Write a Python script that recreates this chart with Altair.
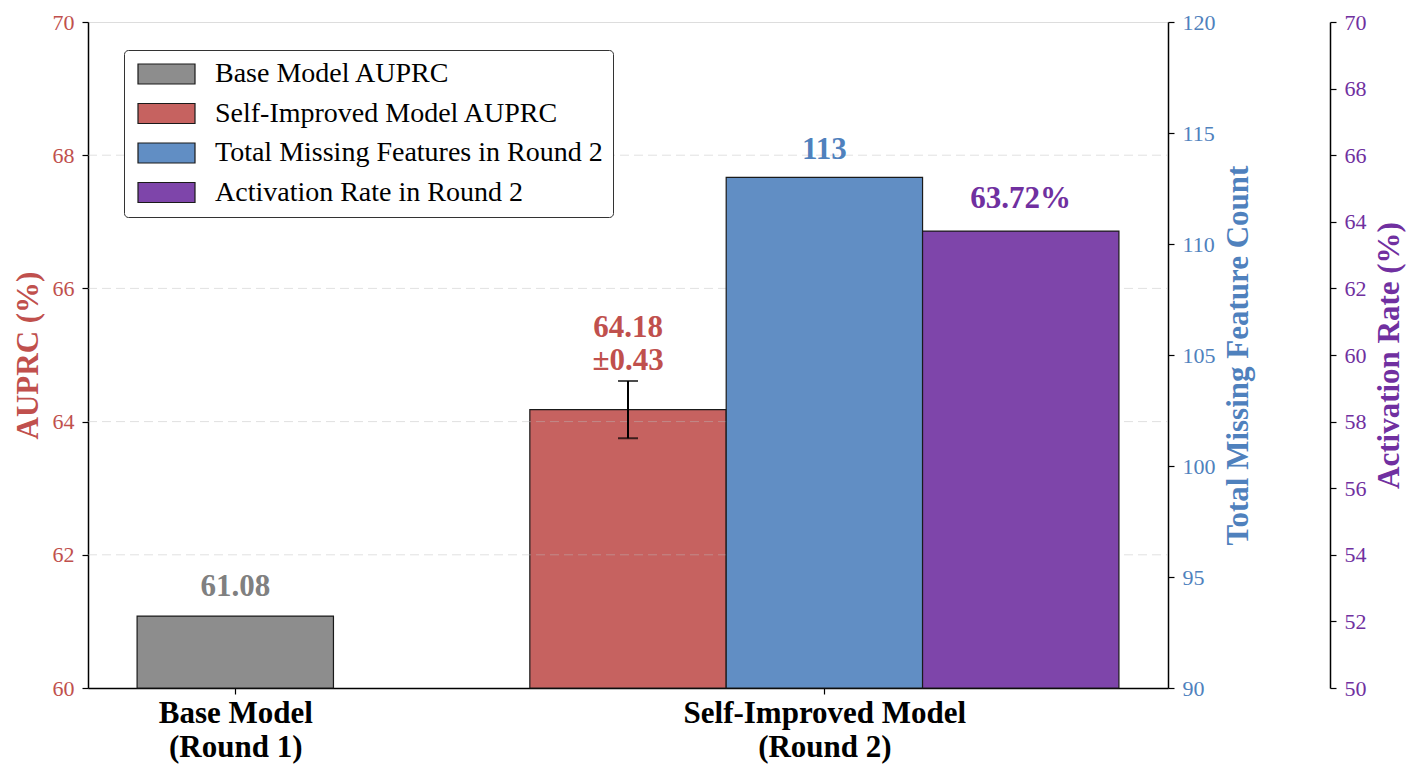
import json
import altair as alt
import pandas as pd

# ---------------- data ----------------
group_labels = [["Base Model", "\u00a0(Round 1)"], ["Self-Improved Model", "\u00a0(Round 2)"]]
series_names = [
    "Base Model AUPRC",
    "Self-Improved Model AUPRC",
    "Total Missing Features in Round 2",
    "Activation Rate in Round 2",
]
auprc_values = [61.08, 64.18]
auprc_errors = [0.0, 0.43]
missing_features = [113]
activation_rate = [63.72]

auprc_ticks = [60, 62, 64, 66, 68, 70]
missing_ticks = [90, 95, 100, 105, 110, 115, 120]
activation_ticks = [50, 52, 54, 56, 58, 60, 62, 64, 66, 68, 70]
grid_values = [62, 64, 66, 68]

# ---------------- styling ----------------
FONT = "Liberation Serif"
RED, BLUE, PURPLE, GRAY = "#C0504D", "#4F81BD", "#7030A0", "#808080"
fill_colors = ["#8D8D8D", "#C66260", "#618EC4", "#7E45AA"]
EDGE = "#1a1a1a"
BAR_W = 1 / 3
X_DOMAIN = [-0.25, 1.5833]
Y_AUPRC = [auprc_ticks[0], auprc_ticks[-1]]
Y_MISS = [missing_ticks[0], missing_ticks[-1]]
Y_ACT = [activation_ticks[0], activation_ticks[-1]]

# bar positions (group index + offset within group)
auprc_df = pd.DataFrame({
    "series": series_names[:2],
    "pos": [0.0, 1.0 - BAR_W],
    "value": auprc_values,
    "err": auprc_errors,
})
auprc_df["x0"] = auprc_df["pos"] - BAR_W / 2
auprc_df["x1"] = auprc_df["pos"] + BAR_W / 2
auprc_df["lo"] = auprc_df["value"] - auprc_df["err"]
auprc_df["hi"] = auprc_df["value"] + auprc_df["err"]
base_df = auprc_df.iloc[[0]].assign(label=[f"{auprc_values[0]:.2f}"])
imp_df = auprc_df.iloc[[1]].assign(label=[f"{auprc_values[1]:.2f}\n±{auprc_errors[1]:.2f}"])

miss_df = pd.DataFrame({"series": [series_names[2]], "pos": [1.0], "value": missing_features})
miss_df["x0"] = miss_df["pos"] - BAR_W / 2
miss_df["x1"] = miss_df["pos"] + BAR_W / 2
miss_df["label"] = [f"{v}" for v in missing_features]

act_df = pd.DataFrame({"series": [series_names[3]], "pos": [1.0 + BAR_W], "value": activation_rate})
act_df["x0"] = act_df["pos"] - BAR_W / 2
act_df["x1"] = act_df["pos"] + BAR_W / 2
act_df["label"] = [f"{v:.2f}%" for v in activation_rate]

grid_df = pd.DataFrame({"v": grid_values})

# ---------------- scales / axes ----------------
x_scale = alt.Scale(domain=X_DOMAIN, nice=False, zero=False)
label_expr = "datum.value == 0 ? " + json.dumps(group_labels[0]) + " : " + json.dumps(group_labels[1])
x_axis = alt.Axis(
    values=[0, 1], labelExpr=label_expr, title=None, grid=False,
    labelFont=FONT, labelFontSize=31, labelFontWeight="bold", labelColor="black",
    labelLineHeight=34, labelPadding=4, labelLimit=600, tickSize=6, tickColor="black", tickWidth=1.2,
    domainColor="black", domainWidth=1.5, labelFlush=False, labelOverlap=False,
)
x_enc = alt.X("x0:Q", scale=x_scale, axis=x_axis)
x2_enc = alt.X2("x1:Q")
xc_enc = alt.X("pos:Q", scale=x_scale, axis=x_axis)

def yaxis(title, color, ticks, orient, offset=0):
    kw = dict(
        title=title, orient=orient, values=ticks, grid=False,
        labelFont=FONT, labelFontSize=22, labelColor=color, labelPadding=8,
        tickSize=6, tickColor="black", tickWidth=1.2,
        domainColor="black", domainWidth=1.5,
        titleFont=FONT, titleFontSize=31, titleFontWeight="bold", titleColor=color,
        titleAngle=270, labelFlush=False, labelOverlap=False,
    )
    if orient == "left":
        kw.update(titlePadding=8)
    else:
        kw.update(titlePadding=8, titleBaseline="top")
    if offset:
        kw["offset"] = offset
    return alt.Axis(**kw)

legend = alt.Legend(
    title=None, orient="none", legendX=36, legendY=28,
    labelFont=FONT, labelFontSize=28, labelColor="black", labelLimit=600,
    symbolType="M-1,-1H4.7V1H-1Z", symbolSize=400,
    symbolStrokeColor=EDGE, symbolStrokeWidth=1.2, symbolOpacity=1,
    labelOffset=53, rowPadding=11.5, padding=10,
    strokeColor="#333333", fillColor="white", cornerRadius=4,
)
color_enc = alt.Color("series:N", scale=alt.Scale(domain=series_names, range=fill_colors), legend=legend)

y_auprc_scale = alt.Scale(domain=Y_AUPRC, nice=False, zero=False)
y_miss_scale = alt.Scale(domain=Y_MISS, nice=False, zero=False)
y_act_scale = alt.Scale(domain=Y_ACT, nice=False, zero=False)

ax_auprc = yaxis("AUPRC (%)", RED, auprc_ticks, "left")
ax_miss = yaxis("Total Missing Feature Count", BLUE, missing_ticks, "right")
ax_act = yaxis("Activation Rate (%)", PURPLE, activation_ticks, "right", offset=162)

# ---------------- layer 1: AUPRC ----------------
a_bars = alt.Chart(auprc_df).mark_bar(stroke=EDGE, strokeWidth=1.2).encode(
    x=x_enc, x2=x2_enc,
    y=alt.Y("value:Q", scale=y_auprc_scale, axis=ax_auprc),
    y2=alt.datum(Y_AUPRC[0]),
    color=color_enc,
)
a_grid = alt.Chart(grid_df).mark_rule(
    stroke="#bbbbbb", strokeOpacity=0.45, strokeWidth=1, strokeDash=[9, 5]
).encode(
    x=alt.value(0), x2=alt.value("width"),
    y=alt.Y("v:Q", scale=y_auprc_scale, axis=ax_auprc),
)
a_err = alt.Chart(imp_df).mark_rule(color="black", strokeWidth=2).encode(
    x=xc_enc,
    y=alt.Y("lo:Q", scale=y_auprc_scale, axis=ax_auprc),
    y2="hi:Q",
)
a_cap_lo = alt.Chart(imp_df).mark_tick(color="black", orient="horizontal", size=20, thickness=2).encode(
    x=xc_enc,
    y=alt.Y("lo:Q", scale=y_auprc_scale, axis=ax_auprc),
)
a_cap_hi = alt.Chart(imp_df).mark_tick(color="black", orient="horizontal", size=20, thickness=2).encode(
    x=xc_enc,
    y=alt.Y("hi:Q", scale=y_auprc_scale, axis=ax_auprc),
)
a_text_base = alt.Chart(base_df).mark_text(
    font=FONT, fontSize=31, fontWeight="bold", color=GRAY, baseline="alphabetic", dy=-20
).encode(
    x=xc_enc,
    y=alt.Y("value:Q", scale=y_auprc_scale, axis=ax_auprc),
    text="label:N",
)
a_text_imp = alt.Chart(imp_df).mark_text(
    font=FONT, fontSize=31, fontWeight="bold", color=RED, baseline="alphabetic",
    lineBreak="\n", lineHeight=33, dy=-44
).encode(
    x=xc_enc,
    y=alt.Y("hi:Q", scale=y_auprc_scale, axis=ax_auprc),
    text="label:N",
)
layer_auprc = alt.layer(a_bars, a_grid, a_err, a_cap_lo, a_cap_hi, a_text_base, a_text_imp)

# ---------------- layer 2: missing features ----------------
m_bars = alt.Chart(miss_df).mark_bar(stroke=EDGE, strokeWidth=1.2).encode(
    x=x_enc, x2=x2_enc,
    y=alt.Y("value:Q", scale=y_miss_scale, axis=ax_miss),
    y2=alt.datum(Y_MISS[0]),
    color=color_enc,
)
m_text = alt.Chart(miss_df).mark_text(
    font=FONT, fontSize=31, fontWeight="bold", color=BLUE, baseline="alphabetic", dy=-18
).encode(
    x=xc_enc,
    y=alt.Y("value:Q", scale=y_miss_scale, axis=ax_miss),
    text="label:N",
)
layer_miss = alt.layer(m_bars, m_text)

# ---------------- layer 3: activation rate ----------------
r_bars = alt.Chart(act_df).mark_bar(stroke=EDGE, strokeWidth=1.2).encode(
    x=x_enc, x2=x2_enc,
    y=alt.Y("value:Q", scale=y_act_scale, axis=ax_act),
    y2=alt.datum(Y_ACT[0]),
    color=color_enc,
)
r_text = alt.Chart(act_df).mark_text(
    font=FONT, fontSize=31, fontWeight="bold", color=PURPLE, baseline="alphabetic", dy=-23
).encode(
    x=xc_enc,
    y=alt.Y("value:Q", scale=y_act_scale, axis=ax_act),
    text="label:N",
)
layer_act = alt.layer(r_bars, r_text)

chart = alt.layer(layer_auprc, layer_miss, layer_act).resolve_scale(
    y="independent"
).properties(
    width=1080, height=666,
    autosize=alt.AutoSizeParams(type="none"),
    padding={"left": 80, "top": 14, "right": 242, "bottom": 81},
).configure_view(
    stroke="black", strokeWidth=1.5
).configure(
    font=FONT, background="white"
)

chart.save("out.html", embed_options={"renderer": "svg", "actions": False})
